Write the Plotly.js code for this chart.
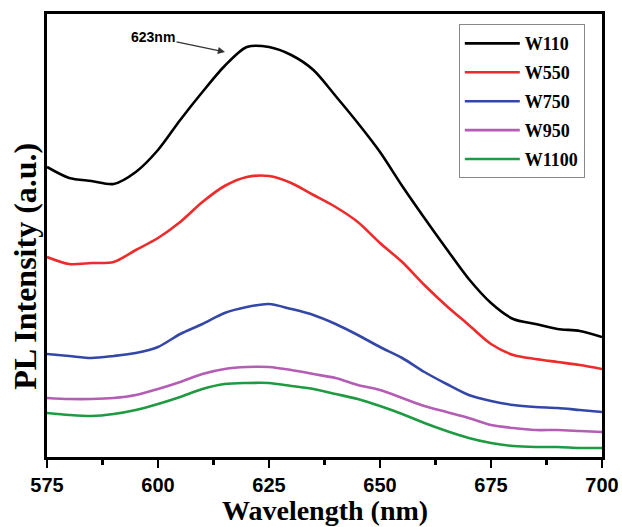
<!DOCTYPE html>
<html>
<head>
<meta charset="utf-8">
<script src="https://cdn.plot.ly/plotly-3.0.1.min.js"></script>
<style>html,body{margin:0;padding:0;background:#fff;}#chart{width:622px;height:527px;}</style>
</head>
<body>
<div id="chart"></div>
<script>
// Wavelength (nm)
const wavelength = [575,580,585,590,595,600,605,610,615,620,625,630,635,640,645,650,655,660,665,670,675,680,685,690,695,700];
// PL intensity (arbitrary units)
const W110  = [290,279,276,273,285,307,337,365,391,410,410,402,387,361,334,305,271,239,208,178,154,138,133,128,126,120];
const W550  = [200,193,194,195,207,219,235,255,271,280,281,274,262,250,235,214,195,172,151,132,113,102,98,95,92,88];
const W750  = [103,101,99,101,104,110,123,133,144,150,153,148,142,133,122,110,99,85,73,62,56,52,50,49,47,45];
const W950  = [59,58,58,59,62,68,75,83,88,90,90,87,83,79,72,67,59,51,45,39,32,29,27,27,26,25];
const W1100 = [44,42,41,43,47,53,60,68,73,74,74,71,68,63,58,51,43,34,26,19,14,11,10,10,9,9];
const seriesNames = ['W110','W550','W750','W950','W1100'];
const seriesData = [W110, W550, W750, W950, W1100];
const seriesColors = ['#000000','#ee2b2b','#3347a8','#b45db5','#1f9a40'];
const xTicks = [575,600,625,650,675,700];
const peakLabel = '623nm';
const peakArrowAt = [615.1, 405];

const traces = seriesNames.map((n,i)=>({
  x: wavelength, y: seriesData[i], name: n, type: 'scatter', mode: 'lines',
  legendgroup: n,
  line: {color: seriesColors[i], width: 2.6, shape: 'spline', smoothing: 0.8}
}));

const layout = {
  width: 622, height: 527,
  margin: {l: 47, r: 20, t: 14, b: 70},
  paper_bgcolor: '#fff', plot_bgcolor: '#fff',
  showlegend: true,
  legend: {
    x: 0.742, y: 0.977, xanchor: 'left', yanchor: 'top',
    bgcolor: '#fff', bordercolor: '#888', borderwidth: 1,
    itemwidth: 55,
    font: {family: 'Liberation Serif, Times New Roman, serif', size: 18, color: '#000', weight: 'bold'},
    tracegroupgap: 2.5
  },
  xaxis: {
    range: [575, 700], tickvals: xTicks, ticktext: xTicks.map(String),
    ticks: 'outside', ticklen: 8, tickwidth: 2.5, tickcolor: '#000',
    minor: {dtick: 12.5, ticks: 'outside', ticklen: 5, tickwidth: 2.5, tickcolor: '#000'},
    showline: true, linecolor: '#000', linewidth: 2.8, mirror: true,
    showgrid: false, zeroline: false,
    tickfont: {family: 'Liberation Sans, Arial, sans-serif', size: 20, color: '#000', weight: 'bold'}
  },
  yaxis: {
    range: [0, 443], showticklabels: false, ticks: '',
    showline: true, linecolor: '#000', linewidth: 2.8, mirror: true,
    showgrid: false, zeroline: false
  },
  annotations: [
    {x: peakArrowAt[0], y: peakArrowAt[1], xref: 'x', yref: 'y', text: peakLabel,
     showarrow: true, arrowhead: 2, arrowsize: 1.2, arrowwidth: 1.2, arrowcolor: '#333',
     ax: -72, ay: -15,
     font: {family: 'Liberation Sans, Arial, sans-serif', size: 14, color: '#000', weight: 'bold'}},
    {x: 0.5, y: -0.158, xref: 'paper', yref: 'paper', xanchor: 'center', yanchor: 'bottom',
     text: 'Wavelength (nm)', showarrow: false, borderpad: 0,
     font: {family: 'Liberation Serif, Times New Roman, serif', size: 28, color: '#000', weight: 'bold'}},
    {x: -0.04, y: 0.431, xref: 'paper', yref: 'paper', xanchor: 'center', yanchor: 'middle',
     text: 'PL Intensity (a.u.)', showarrow: false, textangle: -90,
     font: {family: 'Liberation Serif, Times New Roman, serif', size: 32, color: '#000', weight: 'bold'}}
  ]
};

Plotly.newPlot('chart', traces, layout, {displayModeBar: false, staticPlot: true});
</script>
</body>
</html>
